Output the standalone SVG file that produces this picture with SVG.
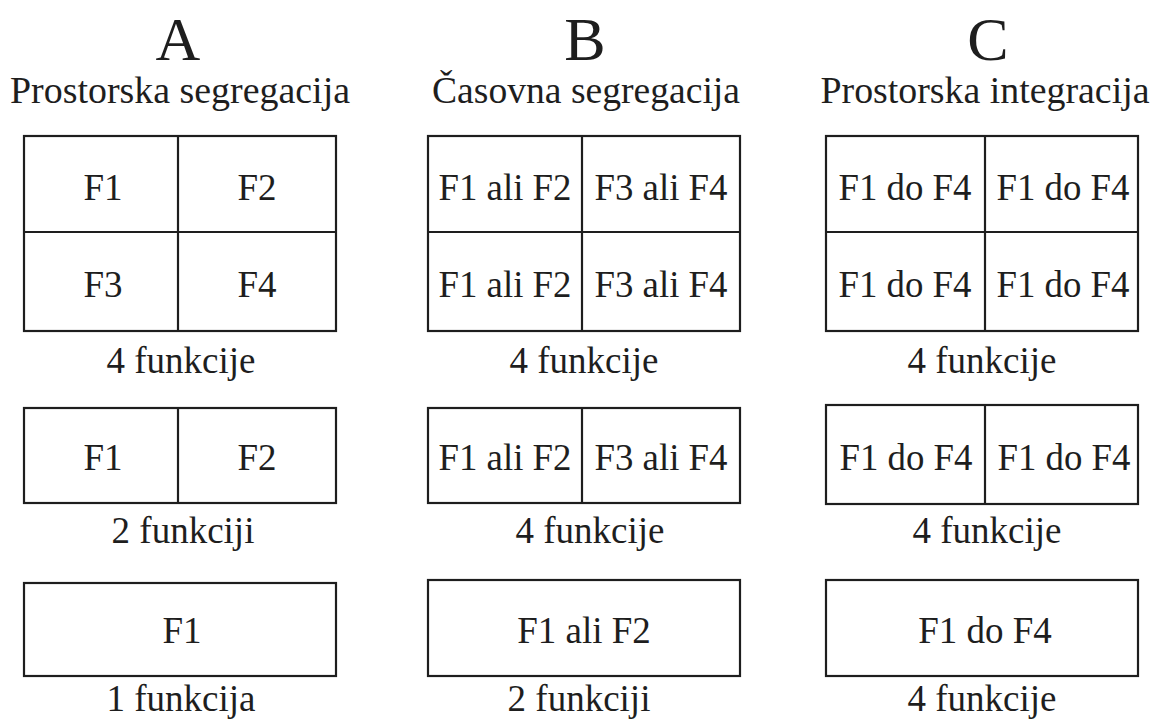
<svg xmlns="http://www.w3.org/2000/svg" width="1152" height="720" viewBox="0 0 1152 720">
<style>
.bx{fill:none;stroke:#1e1e1e;stroke-width:2.2}
.ln{stroke:#1e1e1e;stroke-width:2.2}
text{font-family:"Liberation Serif","Times New Roman",serif;fill:#1e1e1e;text-anchor:middle}
.ltr{font-size:62px}
.hd{font-size:38px}
.c{font-size:37px}
.lb{font-size:37px}
</style>
<rect width="1152" height="720" fill="#ffffff"/>
<g id="headers">
<text class="ltr" x="178" y="60">A</text>
<text class="ltr" x="585" y="60">B</text>
<text class="ltr" x="988" y="60">C</text>
<text class="hd" x="180" y="103" textLength="340" lengthAdjust="spacingAndGlyphs">Prostorska segregacija</text>
<text class="hd" x="586" y="103" textLength="308" lengthAdjust="spacingAndGlyphs">Časovna segregacija</text>
<text class="hd" x="985" y="103" textLength="329" lengthAdjust="spacingAndGlyphs">Prostorska integracija</text>
</g>
<g id="connectors"></g>
<g id="A1">
<rect class="bx" x="24" y="136" width="312" height="195"/>
<line class="ln" x1="178" y1="136" x2="178" y2="331"/>
<line class="ln" x1="24" y1="232" x2="336" y2="232"/>
<text class="c" x="103" y="200">F1</text>
<text class="c" x="257" y="200">F2</text>
<text class="c" x="103" y="297">F3</text>
<text class="c" x="257" y="297">F4</text>
<text class="lb" x="181" y="373">4 funkcije</text>
</g>
<g id="A2">
<rect class="bx" x="24" y="408" width="312" height="95"/>
<line class="ln" x1="178" y1="408" x2="178" y2="503"/>
<text class="c" x="103" y="470">F1</text>
<text class="c" x="257" y="470">F2</text>
<text class="lb" x="183" y="543">2 funkciji</text>
</g>
<g id="A3">
<rect class="bx" x="24" y="583" width="312" height="93"/>
<text class="c" x="182" y="643">F1</text>
<text class="lb" x="181" y="711">1 funkcija</text>
</g>
<g id="B1">
<rect class="bx" x="428" y="136" width="312" height="195"/>
<line class="ln" x1="582" y1="136" x2="582" y2="331"/>
<line class="ln" x1="428" y1="232" x2="740" y2="232"/>
<text class="c" x="505" y="200" textLength="133" lengthAdjust="spacingAndGlyphs">F1 ali F2</text>
<text class="c" x="661" y="200" textLength="133" lengthAdjust="spacingAndGlyphs">F3 ali F4</text>
<text class="c" x="505" y="297" textLength="133" lengthAdjust="spacingAndGlyphs">F1 ali F2</text>
<text class="c" x="661" y="297" textLength="133" lengthAdjust="spacingAndGlyphs">F3 ali F4</text>
<text class="lb" x="584" y="373">4 funkcije</text>
</g>
<g id="B2">
<rect class="bx" x="428" y="408" width="312" height="95"/>
<line class="ln" x1="582" y1="408" x2="582" y2="503"/>
<text class="c" x="505" y="470" textLength="133" lengthAdjust="spacingAndGlyphs">F1 ali F2</text>
<text class="c" x="661" y="470" textLength="133" lengthAdjust="spacingAndGlyphs">F3 ali F4</text>
<text class="lb" x="590" y="543">4 funkcije</text>
</g>
<g id="B3">
<rect class="bx" x="428" y="580" width="312" height="96"/>
<text class="c" x="584" y="643">F1 ali F2</text>
<text class="lb" x="579" y="711">2 funkciji</text>
</g>
<g id="C1">
<rect class="bx" x="826" y="136" width="312" height="195"/>
<line class="ln" x1="985" y1="136" x2="985" y2="331"/>
<line class="ln" x1="826" y1="232" x2="1138" y2="232"/>
<text class="c" x="905" y="200" textLength="133" lengthAdjust="spacingAndGlyphs">F1 do F4</text>
<text class="c" x="1063" y="200" textLength="133" lengthAdjust="spacingAndGlyphs">F1 do F4</text>
<text class="c" x="905" y="297" textLength="133" lengthAdjust="spacingAndGlyphs">F1 do F4</text>
<text class="c" x="1063" y="297" textLength="133" lengthAdjust="spacingAndGlyphs">F1 do F4</text>
<text class="lb" x="982" y="373">4 funkcije</text>
</g>
<g id="C2">
<rect class="bx" x="826" y="405" width="312" height="99"/>
<line class="ln" x1="985" y1="405" x2="985" y2="504"/>
<text class="c" x="906" y="470" textLength="133" lengthAdjust="spacingAndGlyphs">F1 do F4</text>
<text class="c" x="1064" y="470" textLength="133" lengthAdjust="spacingAndGlyphs">F1 do F4</text>
<text class="lb" x="987" y="543">4 funkcije</text>
</g>
<g id="C3">
<rect class="bx" x="826" y="580" width="312" height="96"/>
<text class="c" x="985" y="643">F1 do F4</text>
<text class="lb" x="982" y="711">4 funkcije</text>
</g>
</svg>
